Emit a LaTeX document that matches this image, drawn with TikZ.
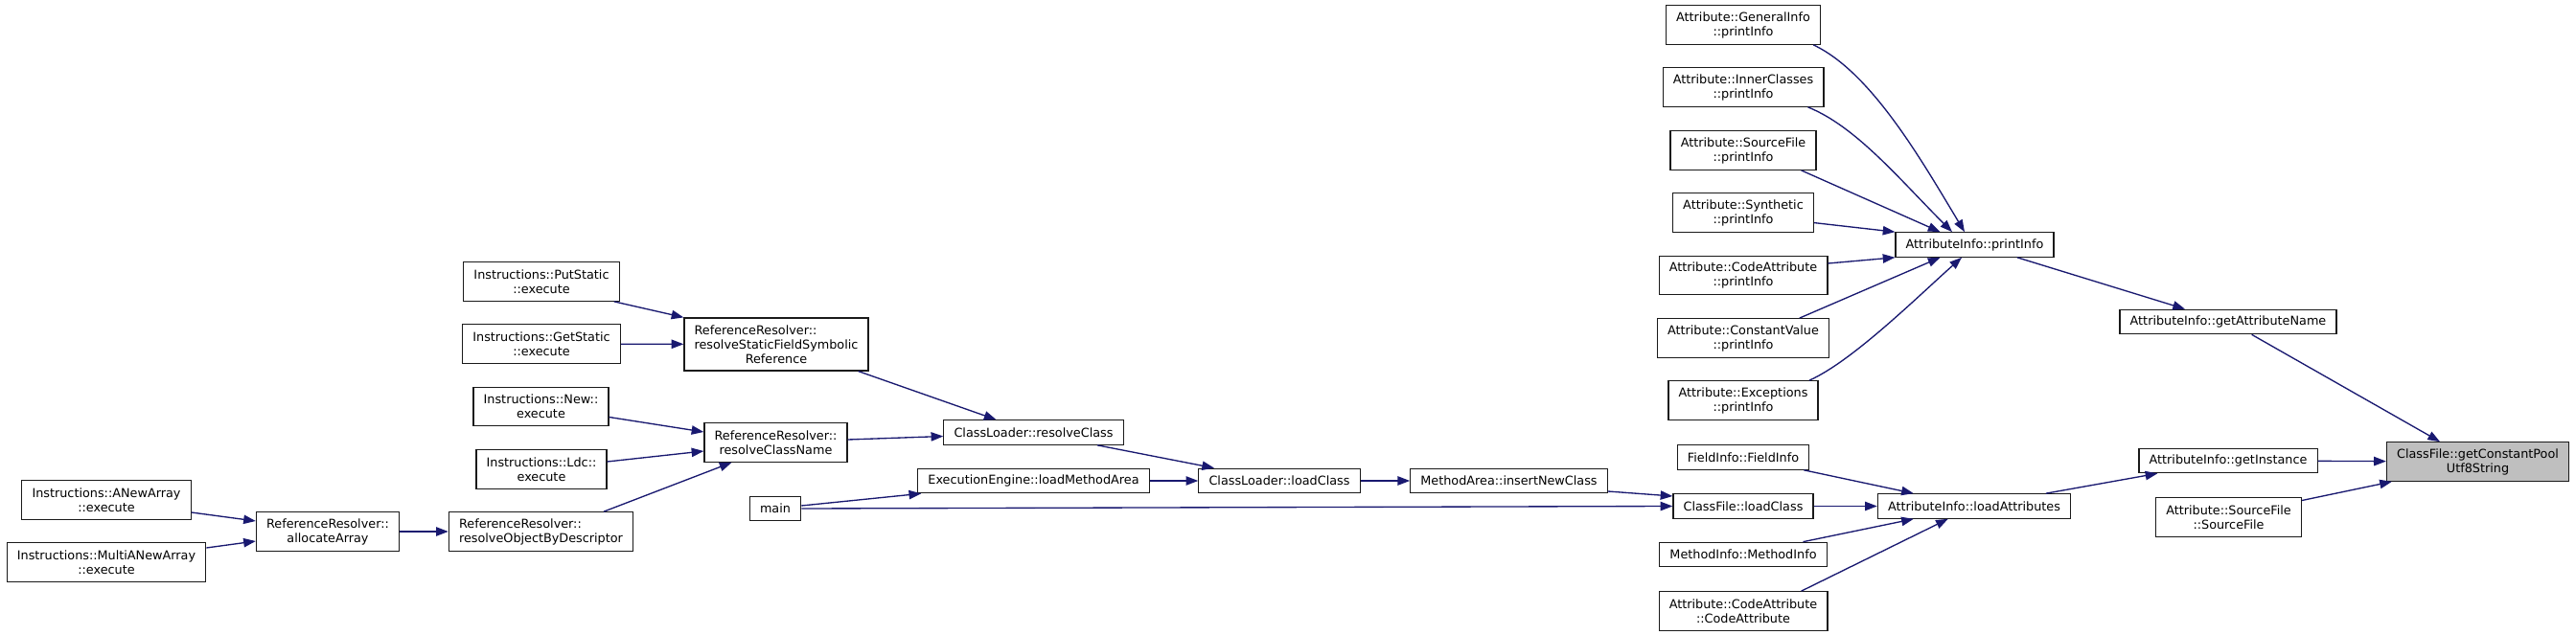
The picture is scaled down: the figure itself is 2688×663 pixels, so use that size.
\documentclass[tikz,border=0pt]{standalone}
\usepackage{fontspec}
\setmainfont{DejaVu Sans}
\usepackage{xcolor}
\definecolor{cMain}{HTML}{191970}
\definecolor{cFocus}{HTML}{BFBFBF}
\definecolor{cBorder}{HTML}{1A1A1A}
\usepackage{tikz}
\usetikzlibrary{arrows.meta,calc}
\tikzset{
  node-box/.style={draw=cBorder,line width=0.9pt,inner xsep=8pt,inner ysep=0pt,
    minimum height=19.1pt,align=center,font=\fontsize{9.6}{11.25}\selectfont},
  node-two/.style={node-box,minimum height=30.4pt},
  node-three/.style={node-box,minimum height=41.25pt},
  % the function whose callers are shown
  node-focus/.style={fill=cFocus},
  arrow/.style={-{Triangle[length=9.5pt,width=7pt]},line width=1pt,draw=cMain},
}

\begin{document}
\begin{tikzpicture}[x=0.75pt,y=-0.75pt]
  \useasboundingbox (0,0) rectangle (2688,663);
  \node[node-two] (anew)   at (111,522) {Instructions::ANewArray\\::execute};
  \node[node-two] (multi)  at (111,587) {Instructions::MultiANewArray\\::execute};
  \node[node-two] (alloc)  at (342,555) {ReferenceResolver::\\allocateArray};
  \node[node-two] (putst)  at (565,294) {Instructions::PutStatic\\::execute};
  \node[node-two] (getst)  at (565,359) {Instructions::GetStatic\\::execute};
  \node[node-two] (newex)  at (564.5,424.5) {Instructions::New::\\execute};
  \node[node-two] (ldcex)  at (565,490) {Instructions::Ldc::\\execute};
  \node[node-two] (resobj) at (564.5,555)
    {\rlap{ReferenceResolver::}\phantom{resolveObjectByDescriptor}\\resolveObjectByDescriptor};
  \node[node-three] (resst) at (810,359.5)
    {\rlap{ReferenceResolver::}\phantom{resolveStaticFieldSymbolic}\\resolveStaticFieldSymbolic\\Reference};
  \node[node-two] (resnm)  at (809.5,462) {ReferenceResolver::\\resolveClassName};
  \node[node-box] (main)   at (809,531) {main};
  \node[node-box] (rescl)  at (1078.5,451.5) {ClassLoader::resolveClass};
  \node[node-box] (lma)    at (1078.5,502) {ExecutionEngine::loadMethodArea};
  \node[node-box] (cllc)   at (1335,502) {ClassLoader::loadClass};
  \node[node-box] (insnc)  at (1574.5,502) {MethodArea::insertNewClass};
  \node[node-two] (gipr)   at (1819,26)  {Attribute::GeneralInfo\\::printInfo};
  \node[node-two] (icpr)   at (1819,91)  {Attribute::InnerClasses\\::printInfo};
  \node[node-two] (sfpr)   at (1819,157) {Attribute::SourceFile\\::printInfo};
  \node[node-two] (sypr)   at (1819,222) {Attribute::Synthetic\\::printInfo};
  \node[node-two] (capr)   at (1819,287.5) {Attribute::CodeAttribute\\::printInfo};
  \node[node-two] (cvpr)   at (1819,353) {Attribute::ConstantValue\\::printInfo};
  \node[node-two] (expr)   at (1819,418) {Attribute::Exceptions\\::printInfo};
  \node[node-box] (finfo)  at (1819,477.5) {FieldInfo::FieldInfo};
  \node[node-box] (cflc)   at (1819,528.5) {ClassFile::loadClass};
  \node[node-box] (minfo)  at (1819,579) {MethodInfo::MethodInfo};
  \node[node-two] (cactor) at (1819,638) {Attribute::CodeAttribute\\::CodeAttribute};
  \node[node-box] (aipr)   at (2060.5,255.5) {AttributeInfo::printInfo};
  \node[node-box] (ldatt)  at (2060,528.5) {AttributeInfo::loadAttributes};
  \node[node-box] (gtname) at (2325,336) {AttributeInfo::getAttributeName};
  \node[node-box] (gtinst) at (2325,481) {AttributeInfo::getInstance};
  \node[node-two] (sfctor) at (2325.5,540) {Attribute::SourceFile\\::SourceFile};
  \node[node-two,node-focus] (utf8) at (2585.5,482) {ClassFile::getConstantPool\\Utf8String};

  \draw[arrow] ($(anew.east)+(0,13)$) -- ($(alloc.west)+(0,-11)$);
  \draw[arrow] ($(multi.east)+(0,-15)$) -- ($(alloc.west)+(0,10)$);
  \draw[arrow] (alloc) -- (resobj);
  \draw[arrow] ($(putst.south east)+(-6,0)$) -- (resst.north west);
  \draw[arrow] (getst) -- (resst);
  \draw[arrow] ($(newex.east)+(0,11)$) -- ($(resnm.west)+(0,-11)$);
  \draw[arrow] ($(ldcex.east)+(0,-8)$) -- ($(resnm.west)+(0,9)$);
  \draw[arrow] ($(resobj.north)+(65.5,0)$) -- ($(resnm.south)+(-46,0)$);
  \draw[arrow] ($(resst.south east)+(-11,0)$) -- ($(rescl.north)+(-39,0)$);
  \draw[arrow] ($(resnm.east)+(0,-3)$) -- ($(rescl.west)+(0,4)$);
  \draw[arrow] ($(rescl.south)+(66.5,0)$) -- ($(cllc.north)+(-68,0)$);
  \draw[arrow] (lma) -- (cllc);
  \draw[arrow] (cllc) -- (insnc);
  \draw[arrow] ($(insnc.east)+(0,11)$) -- ($(cflc.west)+(0,-10.5)$);
  \draw[arrow] ($(main.east)+(0,-3)$) -- ($(lma.south west)+(4,0)$);
  \draw[arrow] (main.east) -- (cflc.west);
  \draw[arrow] ($(gipr.south east)+(-8,0)$) .. controls +(60,28) and +(-45,-75) .. ($(aipr.north)+(-10.5,0)$);
  \draw[arrow] ($(icpr.south east)+(-17,0)$) .. controls +(50,20) and +(-55,-55) .. ($(aipr.north)+(-23.5,0)$);
  \draw[arrow] ($(sfpr.south east)+(-16,0)$) -- ($(aipr.north)+(-36,0)$);
  \draw[arrow] ($(sypr.east)+(0,10.6)$) -- (aipr.north west);
  \draw[arrow] ($(capr.east)+(0,-12.5)$) -- (aipr.south west);
  \draw[arrow] ($(cvpr.north)+(58.7,0)$) -- ($(aipr.south)+(-36,0)$);
  \draw[arrow] ($(expr.north)+(69,0)$) .. controls +(45,-20) and +(-45,40) .. ($(aipr.south)+(-13.5,0)$);
  \draw[arrow] ($(aipr.south)+(44.5,0)$) -- ($(gtname.north)+(-45,0)$);
  \draw[arrow] ($(gtname.south)+(24.6,0)$) -- ($(utf8.north)+(-39.5,0)$);
  \draw[arrow] (gtinst) -- (utf8);
  \draw[arrow] ($(sfctor.east)+(0,-17.5)$) -- ($(utf8.south west)+(6,0)$);
  \draw[arrow] ($(ldatt.north)+(74.8,0)$) -- ($(gtinst.south west)+(20,0)$);
  \draw[arrow] ($(finfo.south east)+(-6,0)$) -- ($(ldatt.north west)+(38,0)$);
  \draw[arrow] (cflc) -- (ldatt);
  \draw[arrow] ($(minfo.north)+(62.5,0)$) -- ($(ldatt.south west)+(38,0)$);
  \draw[arrow] ($(cactor.north)+(60.6,0)$) -- ($(ldatt.south)+(-27.3,0)$);
\end{tikzpicture}
\end{document}
